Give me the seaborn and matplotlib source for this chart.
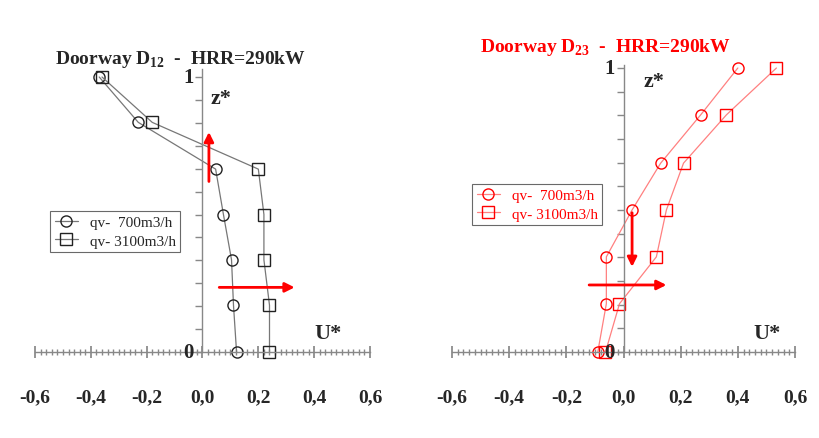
import matplotlib
matplotlib.use("Agg")
import matplotlib.pyplot as plt
import seaborn as sns
import pandas as pd
import numpy as np
from matplotlib.ticker import MultipleLocator

sns.set_theme(style="white")
plt.rcParams['font.family'] = ['Liberation Serif', 'DejaVu Serif']
plt.rcParams['mathtext.fontset'] = 'custom'
plt.rcParams['mathtext.rm'] = 'Liberation Serif'
plt.rcParams['mathtext.bf'] = 'Liberation Serif:bold'

z = [1.0, 0.835, 0.665, 0.5, 0.335, 0.17, 0.0]
left_700 = [-0.37, -0.23, 0.047, 0.075, 0.104, 0.111, 0.122]
left_3100 = [-0.36, -0.18, 0.20, 0.22, 0.22, 0.24, 0.24]
right_700 = [0.40, 0.27, 0.13, 0.03, -0.06, -0.06, -0.09]
right_3100 = [0.535, 0.36, 0.21, 0.15, 0.115, -0.014, -0.063]
xticks = [-0.6, -0.4, -0.2, 0.0, 0.2, 0.4, 0.6]
xtick_labels = ["-0,6", "-0,4", "-0,2", "0,0", "0,2", "0,4", "0,6"]

W, H = 820, 439
fig = plt.figure(figsize=(W/100, H/100), dpi=100)

def make_ax(x0, x1, y0, y1px, top):
    unit = y0 - y1px
    ax = fig.add_axes([x0/W, 1 - y0/H, (x1-x0)/W, unit*top/H])
    ax.set_xlim(-0.6, 0.6)
    ax.set_ylim(0, top)
    for s in ["top", "right"]:
        ax.spines[s].set_visible(False)
    ax.spines["left"].set_position(("data", 0))
    ax.spines["bottom"].set_position(("data", 0))
    for s in ["left", "bottom"]:
        ax.spines[s].set_color("#888888")
        ax.spines[s].set_linewidth(1)
    ax.set_xticks(xticks)
    ax.set_xticklabels(xtick_labels, fontsize=14, fontweight="bold")
    ax.xaxis.set_minor_locator(MultipleLocator(0.02))
    ax.yaxis.set_minor_locator(MultipleLocator(1/12))
    ax.set_yticks([])
    ax.tick_params(axis="x", which="major", direction="inout", length=8, color="#888888", pad=22, bottom=True)
    ax.tick_params(axis="x", which="minor", direction="inout", length=5, color="#888888", bottom=True)
    ax.tick_params(axis="y", which="minor", direction="out", length=5, color="#888888", left=True, right=False)
    ax.patch.set_alpha(0)
    return ax, unit

def plot_series(ax, x, color, line, marker, label):
    df = pd.DataFrame({"U": x, "z": z})
    sns.lineplot(data=df, x="U", y="z", sort=False, estimator=None, ax=ax, color=line, lw=0.9,
                 marker=marker, markersize=8, markerfacecolor="none",
                 markeredgecolor=color, markeredgewidth=1, label=label, clip_on=False)

axL, uL = make_ax(35, 370, 353, 78, 1.03)
plot_series(axL, left_700, "#222222", "#777777", "o", "qv-  700m3/h")
plot_series(axL, left_3100, "#222222", "#777777", "s", "qv- 3100m3/h")
axL.set_xlabel(""); axL.set_ylabel("")
lg = axL.legend(loc="upper left", bbox_to_anchor=(15/335, (353-212)/(uL*1.03)), fontsize=11,
                frameon=True, fancybox=False, edgecolor="#444444", handlelength=1.5,
                borderpad=0.3, labelspacing=0.3, borderaxespad=0)
lg.get_frame().set_linewidth(0.8)
axL.annotate("", xy=(0.023, 0.81), xytext=(0.023, 0.61),
             arrowprops=dict(arrowstyle="-|>", color="red", lw=2, mutation_scale=14))
axL.annotate("", xy=(0.34, 0.235), xytext=(0.05, 0.235),
             arrowprops=dict(arrowstyle="-|>", color="red", lw=2, mutation_scale=14))
axL.text(0.03, 0.96, "z*", fontsize=16, fontweight="bold", va="top")
axL.text(0.5, 0.05, "U*", fontsize=16, fontweight="bold", ha="right")
axL.text(-0.03, 0.0, "0", fontsize=15, fontweight="bold", ha="right", va="center")
axL.text(-0.03, 1.0, "1", fontsize=15, fontweight="bold", ha="right", va="center")
fig.text(180/W, 1-60/H, "Doorway D$_{\\mathbf{12}}$  -  HRR=290kW", fontsize=14,
         fontweight="bold", ha="center", va="center")

axR, uR = make_ax(452, 795, 353, 69, 1.01)
plot_series(axR, right_700, "red", "#ff8080", "o", "qv-  700m3/h")
plot_series(axR, right_3100, "red", "#ff8080", "s", "qv- 3100m3/h")
axR.set_xlabel(""); axR.set_ylabel("")
lg = axR.legend(loc="upper left", bbox_to_anchor=(20/343, (353-185)/(uR*1.01)), fontsize=11,
                frameon=True, fancybox=False, edgecolor="#444444", handlelength=1.5,
                borderpad=0.3, labelspacing=0.3, labelcolor="red", borderaxespad=0)
lg.get_frame().set_linewidth(0.8)
axR.annotate("", xy=(0.03, 0.29), xytext=(0.03, 0.50),
             arrowprops=dict(arrowstyle="-|>", color="red", lw=2, mutation_scale=14))
axR.annotate("", xy=(0.16, 0.236), xytext=(-0.13, 0.236),
             arrowprops=dict(arrowstyle="-|>", color="red", lw=2, mutation_scale=14))
axR.text(0.07, 0.99, "z*", fontsize=16, fontweight="bold", va="top")
axR.text(0.55, 0.05, "U*", fontsize=16, fontweight="bold", ha="right")
axR.text(-0.03, 0.0, "0", fontsize=15, fontweight="bold", ha="right", va="center")
axR.text(-0.03, 1.0, "1", fontsize=15, fontweight="bold", ha="right", va="center")
fig.text(605/W, 1-48/H, "Doorway D$_{\\mathbf{23}}$  -  HRR=290kW", fontsize=14,
         fontweight="bold", ha="center", va="center", color="red")

fig.savefig("out.png", dpi=100)
